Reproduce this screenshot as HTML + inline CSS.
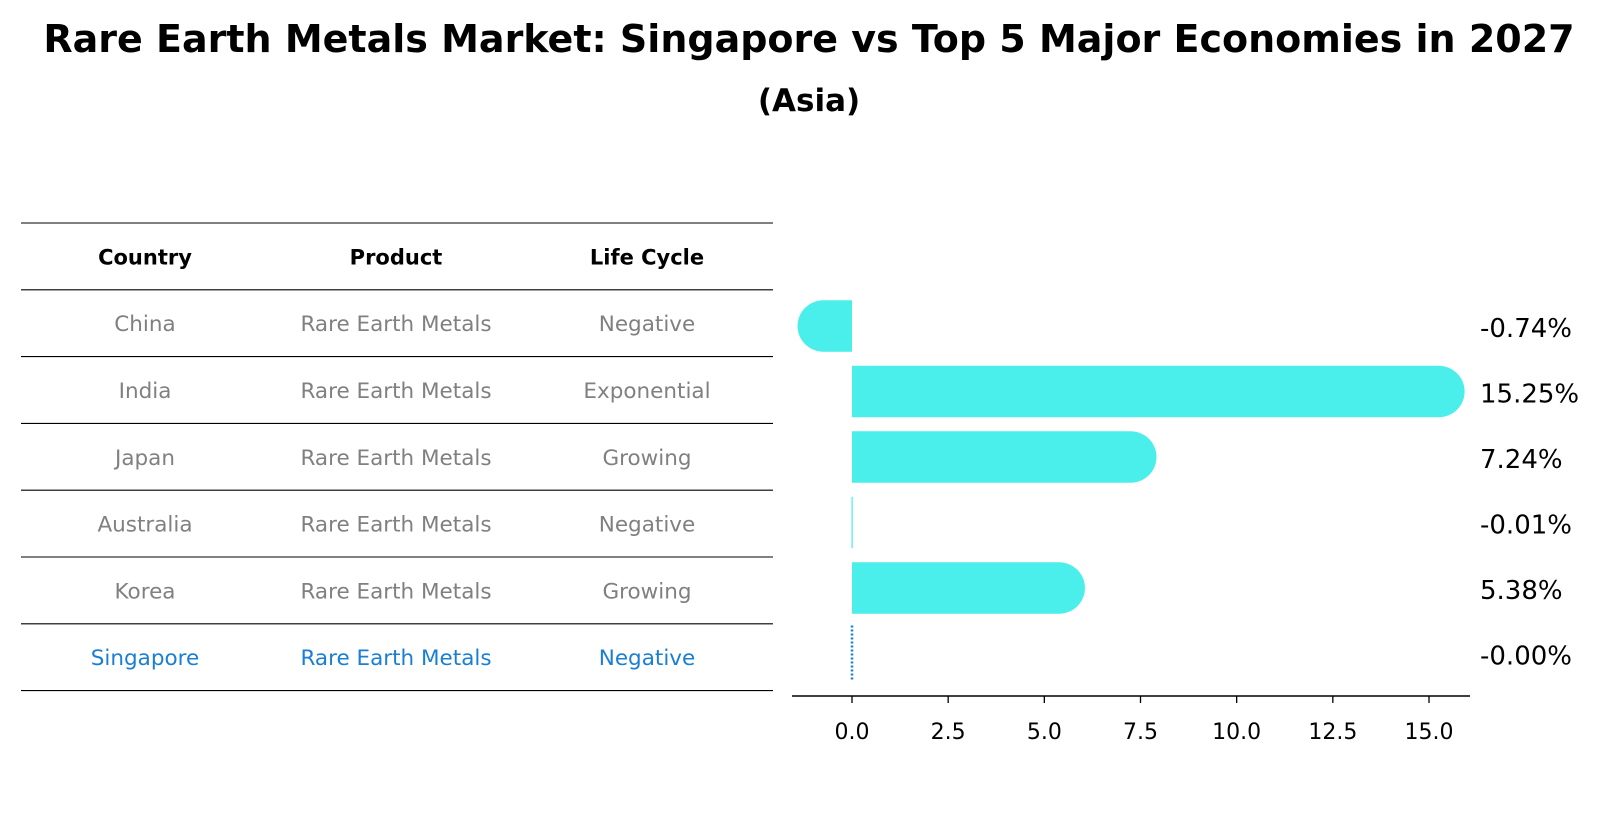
<!DOCTYPE html>
<html><head><meta charset="utf-8"><style>
body{margin:0;background:#fff;width:1610px;height:823px;overflow:hidden;font-family:"DejaVu Sans","Liberation Sans",sans-serif}
</style></head><body>
<svg width="1610" height="823" xmlns="http://www.w3.org/2000/svg" font-family="DejaVu Sans, Liberation Sans, sans-serif">
<text x="809" y="52" text-anchor="middle" font-size="38" font-weight="bold">Rare Earth Metals Market: Singapore vs Top 5 Major Economies in 2027</text>
<text x="809" y="111" text-anchor="middle" font-size="31" font-weight="bold">(Asia)</text>
<g id="table"></g>
<g id="bars"></g>
</svg>
<script>
const countries=["China","India","Japan","Australia","Korea","Singapore"];
const products=["Rare Earth Metals","Rare Earth Metals","Rare Earth Metals","Rare Earth Metals","Rare Earth Metals","Rare Earth Metals"];
const lifecycles=["Negative","Exponential","Growing","Negative","Growing","Negative"];
const values=[-0.74,15.25,7.24,-0.01,5.38,-0.00];
const valueLabels=["-0.74%","15.25%","7.24%","-0.01%","5.38%","-0.00%"];
const ticks=[0,2.5,5,7.5,10,12.5,15];
const tickLabels=["0.0","2.5","5.0","7.5","10.0","12.5","15.0"];
const NS="http://www.w3.org/2000/svg";
function mk(tag,attrs,parent){const e=document.createElementNS(NS,tag);for(const k in attrs)e.setAttribute(k,attrs[k]);parent.appendChild(e);return e;}
const tbl=document.getElementById('table');
const colX=[145,396,647];
const rowH=66.8,top0=223;
const headers=["Country","Product","Life Cycle"];
for(let i=0;i<8;i++){const y=top0+i*rowH;
 const l=mk('line',{x1:21,x2:773,y1:y,y2:y,stroke:'#000','stroke-width':1.1},tbl);
 
 }
headers.forEach((h,j)=>{const t=mk('text',{x:colX[j],y:top0+rowH/2+8,'text-anchor':'middle','font-size':21,'font-weight':'bold'},tbl);t.textContent=h;
 
 });
countries.forEach((c,i)=>{const y=top0+rowH*(i+1.5)+8;const col=i===countries.length-1?'#1a7fd4':'#808080';
 [c,products[i],lifecycles[i]].forEach((v,j)=>{const t=mk('text',{x:colX[j],y:y,'text-anchor':'middle','font-size':21.5,fill:col},tbl);t.textContent=v;
  
  });});
const g=document.getElementById('bars');
const x0=852,pxPer=(1429-852)/15;
const X=v=>x0+v*pxPer;
const Y=i=>326+i*65.5;
const h=51.5,r=26;
values.forEach((v,i)=>{const cy=Y(i);
 if(i===values.length-1){const l=mk('line',{x1:X(v),x2:X(v),y1:cy-28,y2:cy+28,stroke:'#1a7fd4','stroke-width':2.5,'stroke-dasharray':'2,2'},g);
  
  }
 else if(Math.abs(v)<0.05){const l=mk('rect',{x:X(0)-0.5,y:cy-h/2,width:1.2,height:h,fill:'#4aeeea'},g);
  
  }
 else{const xe=X(v);const dir=v>=0?1:-1;
  const d=`M${X(0)},${cy-h/2} L${xe},${cy-h/2} A${r},${h/2} 0 0 ${dir>0?1:0} ${xe},${cy+h/2} L${X(0)},${cy+h/2} Z`;
  const p=mk('path',{d:d,fill:'#4aeeea'},g);
  
  }
 const t=mk('text',{x:1480,y:cy+11,'font-size':26},g);t.textContent=valueLabels[i];
 
 });
const ax=mk('line',{x1:792,x2:1470,y1:696,y2:696,stroke:'#000','stroke-width':1.6},g);


ticks.forEach((tv,i)=>{const x=X(tv);
 const tk=mk('line',{x1:x,x2:x,y1:696,y2:703,stroke:'#000','stroke-width':1.3},g);
 
 
 const t=mk('text',{x:x,y:739,'text-anchor':'middle','font-size':22},g);t.textContent=tickLabels[i];
 
 });
</script>
</body></html>
